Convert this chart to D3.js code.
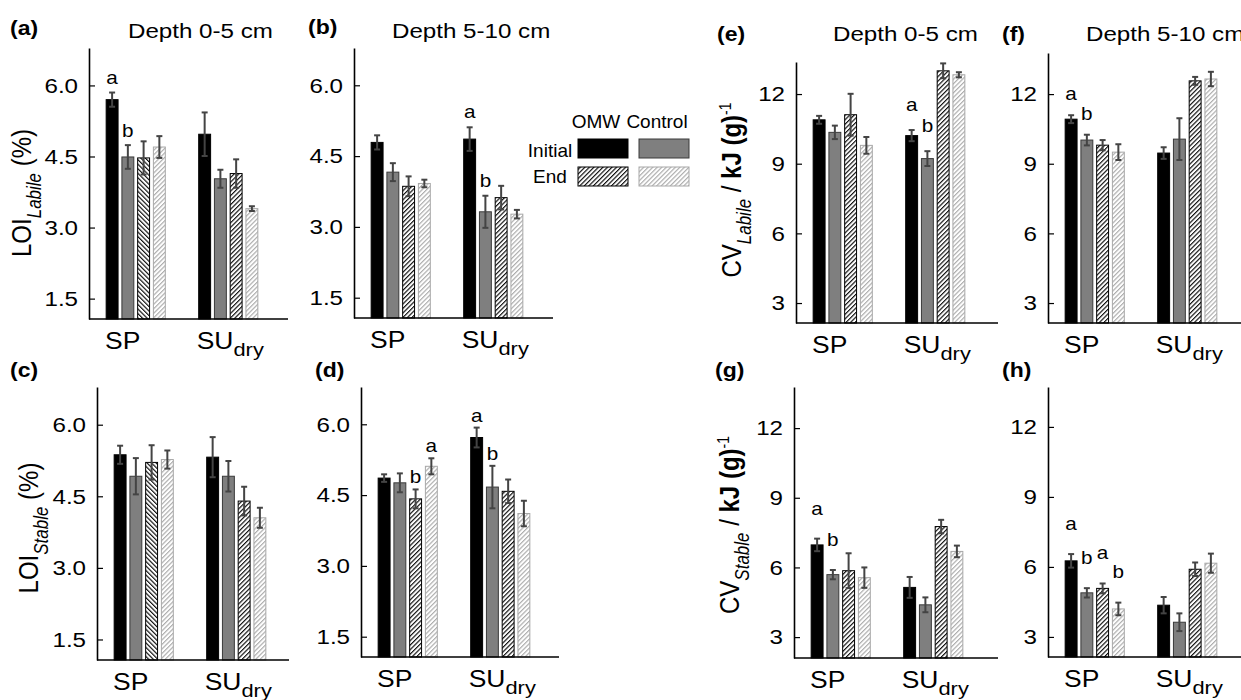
<!DOCTYPE html>
<html>
<head>
<meta charset="utf-8">
<script src="https://cdn.jsdelivr.net/npm/d3@7"></script>
<style>
  html, body { margin: 0; padding: 0; background: #fff; }
  svg text { font-family: "Liberation Sans", Arial, Helvetica, sans-serif; fill: #000; }
</style>
</head>
<body>
<svg id="fig" width="1241" height="700"></svg>
<script>
// ---- data ----
const categories = ["SP", "SU"];
const seriesNames = ["OMW Initial", "Control Initial", "OMW End", "Control End"];
const loiTicks = [1.5, 3.0, 4.5, 6.0];
const cvTicks = [3, 6, 9, 12];

// LOI, labile fraction (%) — rows: SP, SU_dry; columns: series
const loiLabile05 = [[5.70, 4.49, 4.47, 4.70], [4.97, 4.03, 4.14, 3.40]];
const loiLabile05Err = [[0.15, 0.25, 0.35, 0.23], [0.46, 0.19, 0.30, 0.05]];
const loiLabile510 = [[4.79, 4.16, 3.86, 3.92], [4.86, 3.32, 3.62, 3.27]];
const loiLabile510Err = [[0.15, 0.19, 0.21, 0.08], [0.25, 0.34, 0.25, 0.09]];
// LOI, stable fraction (%)
const loiStable05 = [[5.37, 4.92, 5.21, 5.27], [5.32, 4.92, 4.40, 4.05]];
const loiStable05Err = [[0.19, 0.38, 0.36, 0.19], [0.42, 0.32, 0.30, 0.21]];
const loiStable510 = [[4.86, 4.76, 4.42, 5.11], [5.72, 4.67, 4.58, 4.11]];
const loiStable510Err = [[0.08, 0.20, 0.20, 0.17], [0.21, 0.45, 0.25, 0.27]];
// calorific value, labile fraction (kJ/g)
const cvLabile05 = [[10.89, 10.35, 11.11, 9.79], [10.21, 9.22, 13.00, 12.83]];
const cvLabile05Err = [[0.17, 0.29, 0.90, 0.36], [0.24, 0.32, 0.32, 0.11]];
const cvLabile510 = [[10.92, 10.02, 9.80, 9.50], [9.46, 10.06, 12.57, 12.65]];
const cvLabile510Err = [[0.17, 0.23, 0.22, 0.34], [0.25, 0.90, 0.17, 0.31]];
// calorific value, stable fraction (kJ/g)
const cvStable05 = [[6.97, 5.69, 5.86, 5.56], [5.14, 4.39, 7.76, 6.69]];
const cvStable05Err = [[0.27, 0.20, 0.75, 0.44], [0.45, 0.32, 0.29, 0.25]];
const cvStable510 = [[6.26, 4.89, 5.08, 4.20], [4.36, 3.63, 5.90, 6.16]];
const cvStable510Err = [[0.29, 0.20, 0.21, 0.27], [0.35, 0.38, 0.29, 0.41]];

// significance letters: [category index, series index, letter]
const lettersA = [[0, 0, "a"], [0, 1, "b"]];
const lettersB = [[1, 0, "a"], [1, 1, "b"]];
const lettersC = [];
const lettersD = [[0, 2, "b"], [0, 3, "a"], [1, 0, "a"], [1, 1, "b"]];
const lettersE = [[1, 0, "a"], [1, 1, "b"]];
const lettersF = [[0, 0, "a"], [0, 1, "b"]];
const lettersG = [[0, 0, "a"], [0, 1, "b"]];
const lettersH = [[0, 0, "a"], [0, 1, "b"], [0, 2, "a"], [0, 3, "b"]];

// ---- layout ----
const SX = 1.15; // horizontal glyph stretch used throughout the figure
const panels = [
  { tag: "(a)", title: "Depth 0-5 cm", vals: loiLabile05, errs: loiLabile05Err, letters: lettersA, gap: 8.5,
    x0: 89, x1: 288, top: 48, bottom: 319, dom: [1.07, 6.79], ticks: loiTicks, fmt: ".1f",
    tagX: 10, tagY: 35, titleX: 128, titleY: 38, ylab: { kind: "LOI", sub: "Labile", x: 31, y: 193 }, backHatchSP: true },
  { tag: "(b)", title: "Depth 5-10 cm", vals: loiLabile510, errs: loiLabile510Err, letters: lettersB, gap: 9,
    x0: 354, x1: 553, top: 48, bottom: 318, dom: [1.07, 6.79], ticks: loiTicks, fmt: ".1f",
    tagX: 308, tagY: 34, titleX: 392, titleY: 38 },
  { tag: "(c)", title: "", vals: loiStable05, errs: loiStable05Err, letters: lettersC, gap: 8,
    x0: 97, x1: 289, top: 387, bottom: 660, dom: [1.07, 6.79], ticks: loiTicks, fmt: ".1f",
    tagX: 10, tagY: 377, ylab: { kind: "LOI", sub: "Stable", x: 38, y: 528 }, backHatchSP: true },
  { tag: "(d)", title: "", vals: loiStable510, errs: loiStable510Err, letters: lettersD, gap: 6,
    x0: 361, x1: 559, top: 387, bottom: 657, dom: [1.07, 6.79], ticks: loiTicks, fmt: ".1f",
    tagX: 315, tagY: 377 },
  { tag: "(e)", title: "Depth 0-5 cm", vals: cvLabile05, errs: cvLabile05Err, letters: lettersE, gap: 19,
    x0: 796, x1: 998, top: 62, bottom: 323, dom: [2.14, 13.38], ticks: cvTicks, fmt: "d",
    tagX: 717, tagY: 41, titleX: 833, titleY: 41, ylab: { kind: "CV", sub: "Labile", x: 741, y: 190 } },
  { tag: "(f)", title: "Depth 5-10 cm", vals: cvLabile510, errs: cvLabile510Err, letters: lettersF, gap: 15,
    x0: 1048, x1: 1241, top: 53, bottom: 323, dom: [2.14, 13.77], ticks: cvTicks, fmt: "d",
    tagX: 1002, tagY: 41, titleX: 1086, titleY: 41 },
  { tag: "(g)", title: "", vals: cvStable05, errs: cvStable05Err, letters: lettersG, gap: 23.5,
    x0: 794, x1: 998, top: 387, bottom: 658, dom: [2.10, 13.77], ticks: cvTicks, fmt: "d",
    tagX: 715, tagY: 377, ylab: { kind: "CV", sub: "Stable", x: 739, y: 525 } },
  { tag: "(h)", title: "", vals: cvStable510, errs: cvStable510Err, letters: lettersH, gap: 24.5,
    x0: 1048, x1: 1241, top: 387, bottom: 657, dom: [2.14, 13.71], ticks: cvTicks, fmt: "d",
    tagX: 1002, tagY: 377 }
];

const svg = d3.select("#fig");
const defs = svg.append("defs");

// diagonal hatch fills
function hatch(id, color, angle) {
  const p = defs.append("pattern").attr("id", id)
    .attr("patternUnits", "userSpaceOnUse")
    .attr("width", 3.2).attr("height", 10)
    .attr("patternTransform", `rotate(${angle})`);
  p.append("rect").attr("width", 3.2).attr("height", 10).attr("fill", "#fff");
  p.append("line").attr("x1", 0.6).attr("y1", 0).attr("x2", 0.6).attr("y2", 10)
    .attr("stroke", color).attr("stroke-width", 1.1);
}
hatch("hatchDark", "#000", 45);
hatch("hatchDarkBack", "#000", -45);
hatch("hatchLight", "#a8a8a8", 45);

const fills = ["#000", "#7f7f7f", "url(#hatchDark)", "url(#hatchLight)"];
const strokes = ["#000", "#3a3a3a", "#000", "#a8a8a8"];

function stext(g, x, y, str, size, anchor, weight) {
  return g.append("text")
    .attr("transform", `translate(${x},${y}) scale(${SX},1)`)
    .attr("text-anchor", anchor || "start")
    .style("font-size", size + "px")
    .style("font-weight", weight || "normal")
    .text(str);
}

panels.forEach(p => {
  const g = svg.append("g");
  const y = d3.scaleLinear().domain(p.dom).range([p.bottom, p.top]);
  const xg = d3.scaleBand().domain(categories).range([p.x0, p.x0 + 186])
    .paddingInner(0.35).paddingOuter(0.18);
  const xs = d3.scaleBand().domain(d3.range(seriesNames.length)).range([0, xg.bandwidth()])
    .paddingInner(0.18);

  // bars
  categories.forEach((c, ci) => {
    seriesNames.forEach((s, si) => {
      const v = p.vals[ci][si];
      let fill = fills[si];
      if (si === 2 && ci === 0 && p.backHatchSP) fill = "url(#hatchDarkBack)";
      g.append("rect")
        .attr("x", xg(c) + xs(si) + 0.5)
        .attr("y", y(v))
        .attr("width", xs.bandwidth() - 1)
        .attr("height", y(p.dom[0]) - y(v))
        .attr("fill", fill)
        .attr("stroke", strokes[si])
        .attr("stroke-width", 1);
    });
  });

  // error bars
  categories.forEach((c, ci) => {
    seriesNames.forEach((s, si) => {
      const v = p.vals[ci][si], e = p.errs[ci][si];
      const cx = xg(c) + xs(si) + xs.bandwidth() / 2;
      const eg = g.append("g").attr("stroke", "#444").attr("stroke-width", 2);
      eg.append("line").attr("x1", cx).attr("x2", cx).attr("y1", y(v - e)).attr("y2", y(v + e));
      eg.append("line").attr("x1", cx - 3).attr("x2", cx + 3).attr("y1", y(v - e)).attr("y2", y(v - e));
      eg.append("line").attr("x1", cx - 3).attr("x2", cx + 3).attr("y1", y(v + e)).attr("y2", y(v + e));
    });
  });

  // significance letters
  p.letters.forEach(([ci, si, t]) => {
    const v = p.vals[ci][si] + p.errs[ci][si];
    const cx = xg(categories[ci]) + xs(si) + xs.bandwidth() / 2;
    stext(g, cx, y(v) - p.gap, t, 18, "middle");
  });

  // y axis with inward ticks
  const ax = g.append("g").attr("transform", `translate(${p.x0},0)`)
    .call(d3.axisLeft(y).tickValues(p.ticks).tickFormat(d3.format(p.fmt))
      .tickSizeInner(-6).tickSizeOuter(0).tickPadding(11 / SX));
  ax.select(".domain").attr("stroke", "#000").attr("stroke-width", 1.6);
  ax.selectAll(".tick line").attr("stroke", "#000").attr("stroke-width", 1.2);
  ax.selectAll(".tick text")
    .attr("transform", `scale(${SX},1)`)
    .style("font-size", "21px")
    .style("font-family", '"Liberation Sans", Arial, sans-serif')
    .attr("fill", "#000");

  // x axis baseline
  g.append("line").attr("x1", p.x0).attr("x2", p.x1)
    .attr("y1", p.bottom).attr("y2", p.bottom)
    .attr("stroke", "#000").attr("stroke-width", 1.6);

  // category labels
  const base = p.bottom + 30;
  stext(g, xg("SP") + xg.bandwidth() / 2 - 13, base, "SP", 23, "middle");
  const su = stext(g, xg("SU") + xg.bandwidth() / 2 + 2, base, "SU", 23, "middle");
  su.append("tspan").attr("dy", 7).style("font-size", "19px").text("dry");

  // panel tag and title
  stext(g, p.tagX, p.tagY, p.tag, 20, "start", "bold");
  if (p.title) stext(g, p.titleX, p.titleY, p.title, 21, "start");

  // rotated y label
  if (p.ylab) {
    const t = g.append("text")
      .attr("transform", `translate(${p.ylab.x},${p.ylab.y}) scale(${SX},1) rotate(-90)`)
      .attr("text-anchor", "middle")
      .style("font-size", "24px");
    t.append("tspan").text(p.ylab.kind);
    t.append("tspan").attr("dy", 9).style("font-size", "17px").style("font-style", "italic").text(p.ylab.sub);
    if (p.ylab.kind === "LOI") {
      t.append("tspan").attr("dy", -9).text(" (%)");
    } else {
      t.append("tspan").attr("dy", -9).text(" / ");
      t.append("tspan").style("font-weight", "bold").text("kJ (g)");
      t.append("tspan").attr("dy", -9).style("font-size", "14px").text("-1");
    }
  }
});

// legend
const lg = svg.append("g").style("font-size", "19px");
lg.append("text").attr("x", 596).attr("y", 128).attr("text-anchor", "middle").text("OMW");
lg.append("text").attr("x", 657).attr("y", 128).attr("text-anchor", "middle").text("Control");
lg.append("text").attr("x", 550).attr("y", 157).attr("text-anchor", "middle").text("Initial");
lg.append("text").attr("x", 550).attr("y", 183).attr("text-anchor", "middle").text("End");
const sw = [[578, 139, 0], [639, 139, 1], [578, 167, 2], [639, 167, 3]];
sw.forEach(([x, yy, si]) => {
  lg.append("rect").attr("x", x).attr("y", yy).attr("width", 50).attr("height", 19)
    .attr("fill", fills[si]).attr("stroke", strokes[si]).attr("stroke-width", 1);
});
</script>
</body>
</html>
